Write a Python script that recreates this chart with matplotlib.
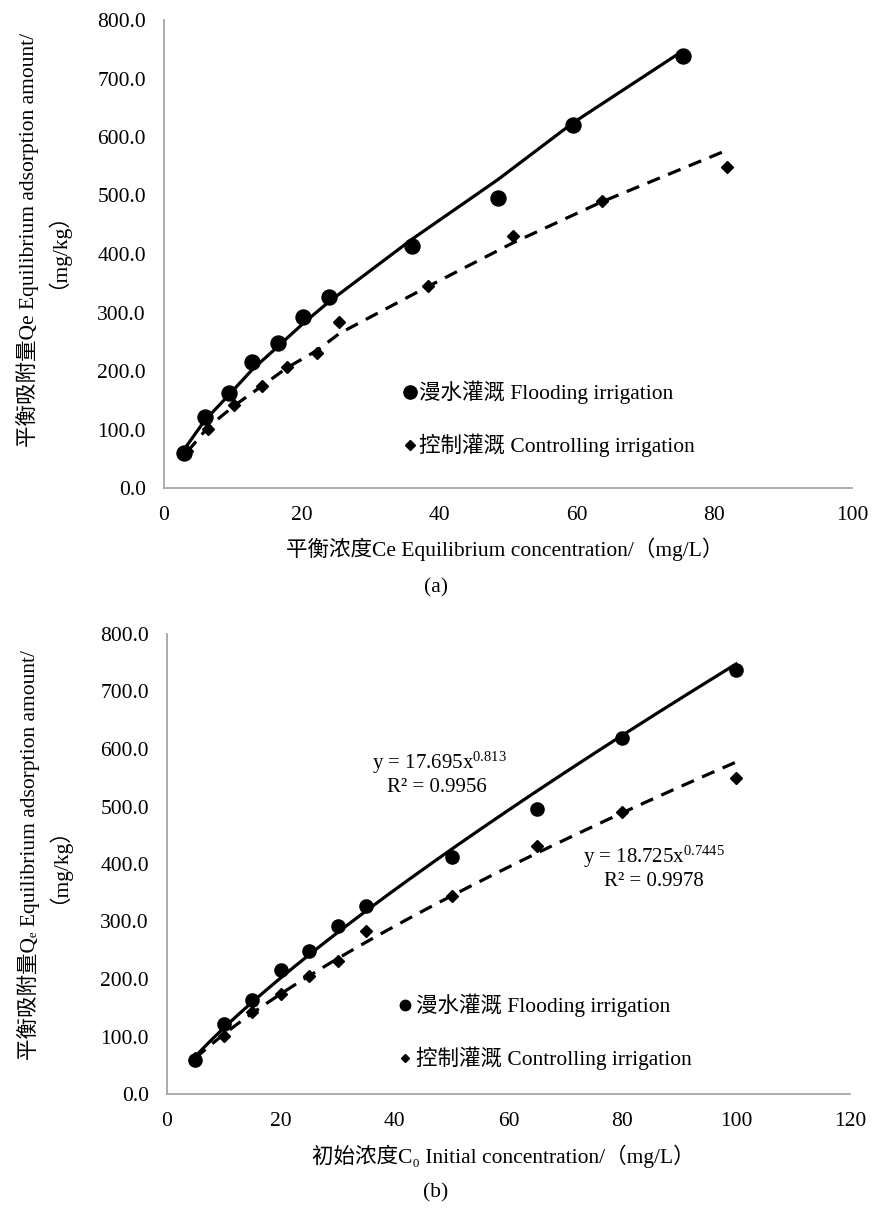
import matplotlib
matplotlib.use("Agg")
import matplotlib.pyplot as plt
from matplotlib.lines import Line2D
import numpy as np

plt.rcParams['font.family'] = ['Liberation Serif', 'Noto Sans CJK SC', 'DejaVu Sans']
plt.rcParams['mathtext.fontset'] = 'custom'
plt.rcParams['mathtext.rm'] = 'Liberation Serif'
plt.rcParams['mathtext.it'] = 'Liberation Serif:italic'

# ---------------- data ----------------
c0 = [5, 10, 15, 20, 25, 30, 35, 50, 65, 80, 100]
ce_flood = [2.9, 5.9, 9.5, 12.8, 16.6, 20.2, 24.0, 36.1, 48.5, 59.4, 75.5]
qe_flood = [60, 121, 163, 215, 248, 292, 327, 413, 496, 620, 738]
ce_ctrl = [3.4, 6.4, 10.2, 14.2, 17.9, 22.3, 25.5, 38.4, 50.7, 63.6, 81.8]
qe_ctrl = [63, 101, 142, 174, 206, 231, 284, 345, 431, 491, 549]

# printed power-law fits (Qe = K * C0^n)
k_flood, n_flood, r2_flood = 17.695, 0.813, 0.9956
k_ctrl, n_ctrl, r2_ctrl = 18.725, 0.7445, 0.9978

label_flood = "漫水灌溉 Flooding irrigation"
label_ctrl = "控制灌溉 Controlling irrigation"
yticks = [0, 100, 200, 300, 400, 500, 600, 700, 800]
xticks_a = [0, 20, 40, 60, 80, 100]
xticks_b = [0, 20, 40, 60, 80, 100, 120]

W, H = 872, 1208
fig = plt.figure(figsize=(W / 100, H / 100), dpi=100)


def fx(px):
    return px / W


def fy(py):
    return 1 - py / H


def make_ax(l, r, t, b):
    return fig.add_axes([fx(l), fy(b), (r - l) / W, (b - t) / H])


FS = 15.5
SPINE = '#a6a6a6'


def style(ax, xlim, xt):
    ax.set_xlim(*xlim)
    ax.set_ylim(0, 800)
    ax.set_xticks(xt)
    ax.set_yticks(yticks)
    ax.set_yticklabels([f"{v:.1f}" for v in yticks])
    for s in ['top', 'right']:
        ax.spines[s].set_visible(False)
    for s in ['left', 'bottom']:
        ax.spines[s].set_color(SPINE)
        ax.spines[s].set_linewidth(1.3)
    ax.tick_params(length=0, labelsize=FS, pad=13)
    ax.patch.set_alpha(0)


LW = 2.3
DASH = (4.2, 2.8)

# ---------------- (a) ----------------
ax1 = make_ax(164, 852, 20, 488)
style(ax1, (0, 100), xticks_a)
fit_f_a = [k_flood * c ** n_flood for c in c0]
fit_c_a = [k_ctrl * c ** n_ctrl for c in c0]
ax1.plot(ce_flood, fit_f_a, color='black', lw=LW, solid_capstyle='butt', zorder=2)
ax1.plot(ce_ctrl, fit_c_a, color='black', lw=LW, dashes=DASH, zorder=2)
ax1.plot(ce_flood, qe_flood, 'o', color='black', ms=10.8, zorder=3, clip_on=False)
ax1.plot(ce_ctrl, qe_ctrl, 'D', color='black', ms=6.3, zorder=3, clip_on=False)

# ---------------- (b) ----------------
ax2 = make_ax(167, 850, 634, 1094)
style(ax2, (0, 120), xticks_b)
xs = np.linspace(min(c0), max(c0), 200)
ax2.plot(xs, k_flood * xs ** n_flood, color='black', lw=LW, zorder=2)
ax2.plot(xs, k_ctrl * xs ** n_ctrl, color='black', lw=LW, dashes=DASH, zorder=2)
ax2.plot(c0, qe_flood, 'o', color='black', ms=9.5, zorder=3, clip_on=False)
ax2.plot(c0, qe_ctrl, 'D', color='black', ms=5.8, zorder=3, clip_on=False)


# ---------------- legends (manual) ----------------
def legend_entry(px, py, marker, ms, text, tx):
    fig.add_artist(Line2D([fx(px)], [fy(py)], marker=marker, ms=ms, color='black',
                          transform=fig.transFigure, linestyle='none'))
    fig.text(fx(tx), fy(py), text, fontsize=FS, ha='left', va='center')


legend_entry(410, 392, 'o', 9.5, label_flood, 419)
legend_entry(410, 445, 'D', 5.0, label_ctrl, 419)
legend_entry(405, 1005, 'o', 7.5, label_flood, 416)
legend_entry(405, 1058, 'D', 4.5, label_ctrl, 416)

# ---------------- axis labels ----------------
fig.text(fx(37), fy(240), "平衡吸附量Qe Equilibrium adsorption amount/\n（mg/kg）", rotation=90,
         fontsize=FS, ha='center', va='center', multialignment='center', linespacing=0.72)
fig.text(fx(505), fy(549), "平衡浓度Ce Equilibrium concentration/（mg/L）", fontsize=FS,
         ha='center', va='center')
fig.text(fx(436), fy(588), "(a)", fontsize=FS, ha='center', va='center')

fig.text(fx(38), fy(855), "平衡吸附量Qₑ Equilibrium adsorption amount/\n（mg/kg）", rotation=90,
         fontsize=FS, ha='center', va='center', multialignment='center', linespacing=0.72)
fig.text(fx(503), fy(1156), "初始浓度C₀ Initial concentration/（mg/L）", fontsize=FS,
         ha='center', va='center')
fig.text(fx(436), fy(1193), "(b)", fontsize=FS, ha='center', va='center')

# ---------------- equations ----------------
EQ = 15
fig.text(fx(372), fy(763), f"y = {k_flood}x$^{{{n_flood}}}$", fontsize=EQ, ha='left', va='center')
fig.text(fx(387), fy(788), f"R² = {r2_flood}", fontsize=EQ, ha='left', va='center')
fig.text(fx(583), fy(857), f"y = {k_ctrl}x$^{{{n_ctrl}}}$", fontsize=EQ, ha='left', va='center')
fig.text(fx(604), fy(882), f"R² = {r2_ctrl}", fontsize=EQ, ha='left', va='center')

fig.savefig("out.png", dpi=100)
